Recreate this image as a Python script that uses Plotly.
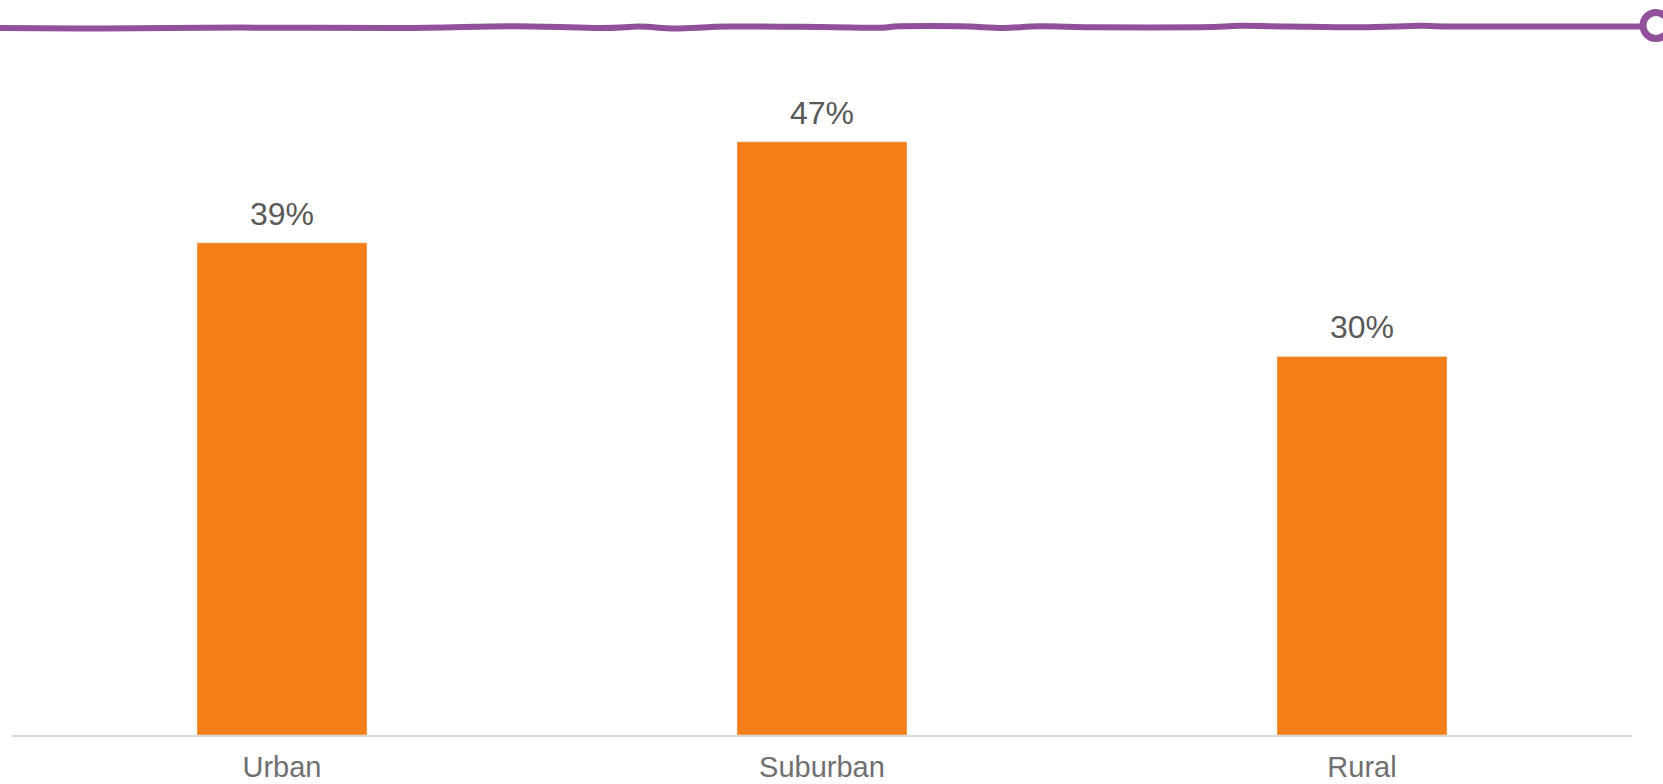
import plotly.graph_objects as go

categories = ["Urban", "Suburban", "Rural"]
values = [39, 47, 30]
labels = ["39%", "47%", "30%"]

BAR_COLOR = "#F47E17"
PURPLE = "#924F9C"
W, H = 1663, 784
ML, MR, MT, MB = 12, 31, 104, 49

fig = go.Figure()
fig.add_trace(go.Bar(
    x=categories, y=values, marker_color=BAR_COLOR, width=0.315,
    hoverinfo="skip", showlegend=False,
))

for c, v, t in zip(categories, values, labels):
    fig.add_annotation(x=c, y=v, text=t, showarrow=False, yanchor="bottom",
                       yshift=9, font=dict(family="Liberation Sans, Arial", size=32, color="#595959"))

# decorative wavy line (pixel coordinates converted to paper coordinates)
pw = W - ML - MR
ph = H - MT - MB
def px(x):
    return (x - ML) / pw
def py(y):
    return (H - MB - y) / ph

wave = [(-5, 28), (100, 28.6), (240, 27.6), (400, 28), (515, 26.2), (600, 28), (640, 26.6),
        (676, 28.5), (730, 26.5), (820, 27), (880, 27.8), (900, 26.2), (960, 26.2), (1003, 28),
        (1040, 26.2), (1100, 27.3), (1200, 27.3), (1240, 25.8), (1290, 26.5), (1360, 27.3), (1420, 25.8),
        (1450, 26.5), (1560, 26.5), (1645, 26.5)]
pts = [(px(x), py(y)) for x, y in wave]
segs = [f"M {pts[0][0]:.5f},{pts[0][1]:.5f}"]
for i in range(len(pts) - 1):
    p0 = pts[i - 1] if i > 0 else pts[i]
    p1, p2 = pts[i], pts[i + 1]
    p3 = pts[i + 2] if i + 2 < len(pts) else pts[i + 1]
    c1 = (p1[0] + (p2[0] - p0[0]) / 6, p1[1] + (p2[1] - p0[1]) / 6)
    c2 = (p2[0] - (p3[0] - p1[0]) / 6, p2[1] - (p3[1] - p1[1]) / 6)
    segs.append(f"C {c1[0]:.5f},{c1[1]:.5f} {c2[0]:.5f},{c2[1]:.5f} {p2[0]:.5f},{p2[1]:.5f}")
fig.add_shape(type="path", path=" ".join(segs), xref="paper", yref="paper",
              line=dict(color=PURPLE, width=6), layer="above")
cx, cy, r = 1656, 25.5, 13
fig.add_shape(type="circle", xref="paper", yref="paper",
              x0=px(cx - r), x1=px(cx + r), y0=py(cy + r), y1=py(cy - r),
              line=dict(color=PURPLE, width=7), fillcolor="white", layer="above")

fig.update_layout(
    width=W, height=H,
    margin=dict(l=ML, r=MR, t=MT, b=MB, autoexpand=False),
    plot_bgcolor="white", paper_bgcolor="white",
    bargap=0.685,
    font=dict(family="Liberation Sans, Arial", color="#6E6E6E"),
    xaxis=dict(showline=True, linecolor="#D9D9D9", linewidth=2, ticks="",
               automargin=False, ticklabelstandoff=5,
               tickfont=dict(size=29, color="#707070"), showgrid=False),
    yaxis=dict(range=[0, 50], visible=False, showgrid=False, automargin=False),
)

fig.write_html("out.html")
